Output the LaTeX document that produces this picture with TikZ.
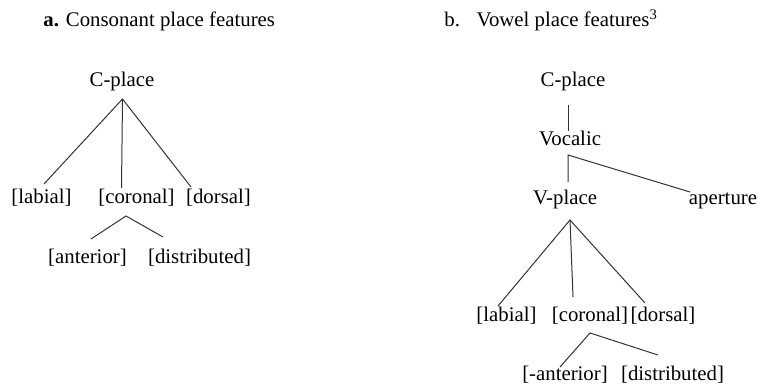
\documentclass[tikz,border=0pt]{standalone}
\usepackage{fontspec}
\setmainfont{Liberation Serif}
\begin{document}
\begin{tikzpicture}[x=0.5pt,y=-0.5pt,
  lbl/.style={anchor=base,inner sep=0pt,font=\fontsize{10.4}{12}\selectfont},
  branch/.style={line width=0.5pt,draw=black!80}]
\useasboundingbox (0,0) rectangle (759,385);

% ---- a. consonant place features ----
\node[lbl,anchor=base west] (ta) at (43,27) {\textbf{a.} Consonant place features};
\node[lbl] (lcp) at (122,87) {C-place};
\node[lbl] (llab) at (41.5,203) {[labial]};
\node[lbl] (lcor) at (136.5,203) {[coronal]};
\node[lbl] (ldor) at (218.5,203) {[dorsal]};
\node[lbl] (lant) at (87.5,263) {[anterior]};
\node[lbl] (ldis) at (199.5,263) {[distributed]};

\coordinate (lcp-b) at (122.5,99);
\coordinate (llab-t) at (44,184);
\coordinate (lcor-t) at (121.5,188);
\coordinate (ldor-t) at (191,187);
\coordinate (lcor-b) at (126,216);
\coordinate (lant-t) at (91,239);
\coordinate (ldis-t) at (163,237);

\draw[branch] (llab-t) -- (lcp-b) -- (ldor-t);
\draw[branch] (lcp-b) -- (lcor-t);
\draw[branch] (lant-t) -- (lcor-b) -- (ldis-t);

% ---- b. vowel place features ----
\node[lbl,anchor=base west] (tb) at (444,27) {b.\hspace{0.8em}Vowel place features\textsuperscript{3}};
\node[lbl] (rcp) at (573,87) {C-place};
\node[lbl] (rvoc) at (570,145) {Vocalic};
\node[lbl] (rvp) at (565,204) {V-place};
\node[lbl] (rap) at (723,204) {aperture};
\node[lbl] (rlab) at (506.5,321) {[labial]};
\node[lbl] (rcor) at (590,321) {[coronal]};
\node[lbl] (rdor) at (663,321) {[dorsal]};
\node[lbl] (rant) at (565,380) {[-anterior]};
\node[lbl] (rdis) at (672.5,380) {[distributed]};

\coordinate (rcp-b) at (568,105);
\coordinate (rvoc-t) at (568,131);
\coordinate (rvoc-b) at (568,155);
\coordinate (rvp-t) at (568,182);
\coordinate (rap-t) at (690,192);
\coordinate (rvp-b) at (570,220);
\coordinate (rlab-t) at (498,306);
\coordinate (rcor-t) at (573,297);
\coordinate (rdor-t) at (645,303);
\coordinate (rcor-b) at (590,333);
\coordinate (rant-t) at (560,367);
\coordinate (rdis-t) at (658,355);

\draw[branch] (rcp-b) -- (rvoc-t);
\draw[branch] (rvp-t) -- (rvoc-b) -- (rap-t);
\draw[branch] (rlab-t) -- (rvp-b) -- (rdor-t);
\draw[branch] (rvp-b) -- (rcor-t);
\draw[branch] (rant-t) -- (rcor-b) -- (rdis-t);
\end{tikzpicture}
\end{document}
